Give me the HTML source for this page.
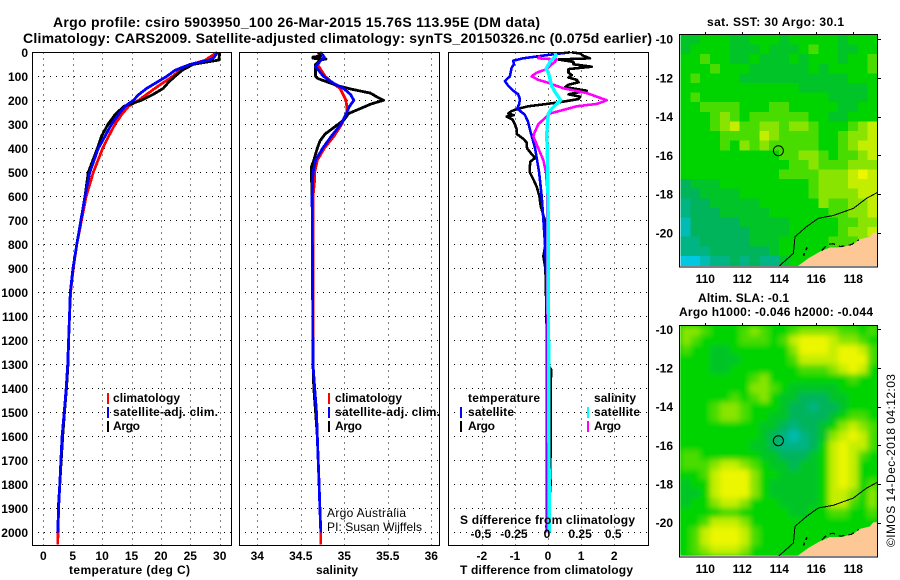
<!DOCTYPE html>
<html>
<head>
<meta charset="utf-8">
<title>Argo profile 5903950_100</title>
<style>
html,body{margin:0;padding:0;background:#fff;}
svg{display:block;}
text{font-family:"Liberation Sans",sans-serif;fill:#000;}
.b{font-weight:bold;font-size:12px;}
.t{font-weight:bold;font-size:14px;}
.n{font-size:12px;}
</style>
</head>
<body>
<svg id="chart" xmlns="http://www.w3.org/2000/svg" width="900" height="580" viewBox="0 0 900 580">
<defs>
<clipPath id="clip-map-sst"><rect x="680" y="35" width="198" height="231"/></clipPath>
<clipPath id="clip-map-sla"><rect x="680" y="326" width="198" height="230"/></clipPath>
<filter id="soft" x="-10%" y="-10%" width="120%" height="120%"><feGaussianBlur stdDeviation="2.8"/></filter>
</defs>
<rect x="0" y="0" width="900" height="580" fill="#fff"/>
<text class="t" x="53" y="27" textLength="487" lengthAdjust="spacing">Argo profile: csiro 5903950_100 26-Mar-2015 15.76S 113.95E (DM data)</text>
<text class="t" x="23" y="43" textLength="629" lengthAdjust="spacing">Climatology: CARS2009. Satellite-adjusted climatology: synTS_20150326.nc (0.075d earlier)</text>
<text class="b" x="707" y="26" textLength="137" lengthAdjust="spacing">sat. SST: 30 Argo: 30.1</text>
<text class="b" x="698" y="302" textLength="91" lengthAdjust="spacing">Altim. SLA: -0.1</text>
<text class="b" x="679" y="316" textLength="194" lengthAdjust="spacing">Argo h1000: -0.046 h2000: -0.044</text>
<g id="layer-maps"></g>
<g id="layer-grid"></g>
<g id="layer-lines"></g>
<g id="layer-frames"></g>
<g id="layer-ticks"></g>

<text class="b" x="69" y="574" textLength="121" lengthAdjust="spacing">temperature (deg C)</text>
<text class="b" x="316" y="574" textLength="42" lengthAdjust="spacing">salinity</text>
<text class="b" x="460" y="574" textLength="173" lengthAdjust="spacing">T difference from climatology</text>
<text class="b" x="460" y="524" textLength="175" lengthAdjust="spacing">S difference from climatology</text>

<g>
<rect x="107" y="393" width="2" height="11" fill="#f00"/>
<text class="b" x="113" y="402" textLength="67" lengthAdjust="spacing">climatology</text>
<rect x="107" y="407" width="2" height="11" fill="#00f"/>
<text class="b" x="113" y="416" textLength="105" lengthAdjust="spacing">satellite-adj. clim.</text>
<rect x="107" y="421" width="2" height="11" fill="#000"/>
<text class="b" x="113" y="430" textLength="27" lengthAdjust="spacing">Argo</text>
</g>
<g>
<rect x="328" y="393" width="2" height="11" fill="#f00"/>
<text class="b" x="335" y="402" textLength="67" lengthAdjust="spacing">climatology</text>
<rect x="328" y="407" width="2" height="11" fill="#00f"/>
<text class="b" x="335" y="416" textLength="105" lengthAdjust="spacing">satellite-adj. clim.</text>
<rect x="328" y="421" width="2" height="11" fill="#000"/>
<text class="b" x="335" y="430" textLength="27" lengthAdjust="spacing">Argo</text>
</g>
<text class="n" x="327" y="517" textLength="79" lengthAdjust="spacing">Argo Australia</text>
<text class="n" x="327" y="531" textLength="95" lengthAdjust="spacing">PI: Susan Wijffels</text>
<g>
<text class="b" x="468" y="402" textLength="72" lengthAdjust="spacing">temperature</text>
<rect x="460" y="407" width="2" height="11" fill="#00f"/>
<text class="b" x="468" y="416" textLength="46" lengthAdjust="spacing">satellite</text>
<rect x="460" y="421" width="2" height="11" fill="#000"/>
<text class="b" x="468" y="430" textLength="27" lengthAdjust="spacing">Argo</text>
<text class="b" x="594" y="402" textLength="42" lengthAdjust="spacing">salinity</text>
<rect x="587" y="407" width="2" height="11" fill="#0ff"/>
<text class="b" x="594" y="416" textLength="46" lengthAdjust="spacing">satellite</text>
<rect x="587" y="421" width="2" height="11" fill="#f0f"/>
<text class="b" x="594" y="430" textLength="27" lengthAdjust="spacing">Argo</text>
</g>
<text class="n" font-size="12" transform="translate(895,547) rotate(-90)" textLength="173" lengthAdjust="spacing">©IMOS 14-Dec-2018 04:12:03</text>
</svg>

<script>
// ---- chart data ----
var depthTicks = [0,100,200,300,400,500,600,700,800,900,1000,1100,1200,1300,1400,1500,1600,1700,1800,1900,2000];
var tempTicks = [0,5,10,15,20,25,30];
var salTicks = [34,34.5,35,35.5,36];
var salTickLabels = ['34','34.5','35','35.5','36'];
var tDiffTicks = [-2,-1,0,1,2];
var sDiffTicks = [-0.5,-0.25,0,0.25,0.5];
var sDiffTickLabels = ['-0.5','-0.25','0','0.25','0.5'];
var lonTicks = [110,112,114,116,118];
var latTicks = [-10,-12,-14,-16,-18,-20];

var tempDepths = [0,25,32,50,75,100,125,150,175,200,225,260,300,350,400,500,600,700,800,900,1000,1100,1200,1300,1400,1500,1600,1700,1800,1900,2000,2050];
var climTemp = [29.6,28,27.6,25.3,23.2,22,20.5,19,17.6,16.2,14.5,13.3,12.2,11.1,10.1,8.5,7.3,6.5,5.7,5.1,4.65,4.45,4.3,4.15,3.9,3.57,3.23,3,2.8,2.6,2.5,2.45];
var argoTemp = [30,29.9,29.9,25.5,23.6,22.4,21.3,20.4,18.7,16.7,13.7,12.2,11,9.9,9.2,7.65,7.1,6.4,5.7,5.05,4.6,4.45,4.3,4.2,3.95,3.6,3.3,3.05,2.8,2.55,2.5,null];
var satTemp = [29.7,28.9,28.2,25,22.4,21,19.3,17.6,16.3,15.3,13.9,12.75,11.6,10.5,9.35,7.9,7.1,6.4,5.7,5.05,4.6,4.45,4.3,4.15,3.9,3.55,3.2,3,2.8,2.6,2.45,null];

var climSalDepths = [0,20,50,100,130,150,200,230,250,270,300,350,400,450,500,530,600,1300,1400,1500,1600,1700,1800,1900,2000,2050];
var climSal = [34.7,34.72,34.69,34.78,34.87,34.95,35.02,35.03,35.03,35.01,34.97,34.88,34.77,34.69,34.66,34.66,34.64,34.64,34.66,34.68,34.69,34.7,34.71,34.72,34.73,34.73];
var argoSalDepths = [0,15,20,25,28,32,35,50,100,110,140,155,170,185,200,215,235,255,280,300,340,370,400,450,480,600,1300,1400,1500,1600,1700,1800,1900,2000];
var argoSal = [34.71,34.73,34.64,34.64,34.79,34.72,34.72,34.67,34.67,34.7,34.93,35.1,35.3,35.37,35.45,35.31,35.18,35.05,35,34.93,34.78,34.72,34.69,34.65,34.62,34.63,34.64,34.65,34.67,34.69,34.7,34.71,34.72,34.73];
var satSalDepths = [0,20,50,60,100,130,150,175,200,225,250,280,300,350,400,450,500,600,1300,1400,1500,1600,1700,1800,1900,2000];
var satSal = [34.73,34.77,34.69,34.67,34.76,34.88,34.99,35.07,35.11,35.06,35.03,34.99,34.96,34.85,34.75,34.67,34.64,34.63,34.64,34.66,34.68,34.69,34.7,34.71,34.72,34.73];

var argoTDiffDepths = [0,5,15,25,30,40,50,60,70,85,95,105,115,125,135,145,160,175,185,195,210,225,235,245,255,262,268,280,300,320,340,360,375,400,425,440,455,475,500,530,560,600,640,680,700,800,850,900,1000,1300,1320,1680,1720,1800,1900,1980];
var argoTDiff = [0.72,0.97,1.07,1.27,0.31,0.77,0.77,1.32,0.62,0.62,0.72,0.62,0.87,0.92,0.62,0.52,1.17,0.62,0.97,0.92,0.26,-0.6,-0.9,-1.1,-1.2,-1.03,-1.25,-1.07,-1,-0.95,-0.95,-0.75,-0.65,-0.63,-0.49,-0.39,-0.53,-0.55,-0.55,-0.44,-0.34,-0.26,-0.22,-0.14,-0.09,-0.08,-0.14,-0.08,-0.06,-0.02,0.09,0.08,0.06,0.08,0.02,-0.05];
var satTDiffDepths = [0,10,25,35,50,65,85,100,120,140,160,175,195,215,235,260,290,320,350,400,500,600,700,800,900,1100,2000];
var satTDiff = [0.67,0.06,-0.75,-1.05,-1.03,-1.1,-1.13,-1.15,-1.3,-1.2,-1.05,-0.9,-0.85,-0.87,-0.93,-0.7,-0.6,-0.55,-0.49,-0.39,-0.27,-0.19,-0.14,-0.09,-0.06,-0.04,-0.04];
var argoSDiffDepths = [15,25,30,40,50,70,85,100,115,125,150,170,185,200,215,225,240,255,280,300,330,350,400,450,500,570,2000];
var argoSDiff = [-0.06,-0.073,0.066,0.053,0.028,-0.01,-0.086,-0.124,-0.073,-0.01,0.116,0.293,0.369,0.444,0.369,0.217,0.116,0.015,-0.035,-0.073,-0.098,-0.111,-0.073,-0.035,-0.015,-0.005,0];
var satSDiffDepths = [0,15,25,40,70,85,110,140,165,185,200,215,235,255,300,350,400,600,2000];
var satSDiff = [0.053,0.061,0.04,0.015,-0.015,0.003,0.015,0.028,0.053,0.078,0.096,0.066,0.028,0.003,-0.005,-0.01,-0.005,0,0.01];

// Map fields, values on a 0-9 colour scale, north to south, west to east
var sstField = [
[4,4,5,5,5,4,4,5,5,5,4,5,5,5,5,5,4,5,5,5],
[4,5,5,5,5,4,4,4,5,4,4,4,5,6,5,5,4,4,5,5],
[5,5,6,5,5,4,4,5,4,4,4,5,4,5,5,5,4,5,5,6],
[5,5,5,6,5,5,5,4,4,4,4,4,4,5,4,5,5,5,5,6],
[5,6,5,5,5,5,4,4,4,4,4,4,4,4,4,4,4,5,5,5],
[5,5,5,5,5,5,5,5,5,5,5,5,4,4,4,4,4,4,4,5],
[5,6,5,5,5,5,5,5,5,5,5,5,5,5,5,4,4,4,4,5],
[5,5,6,6,6,6,5,5,5,6,6,5,5,5,5,5,4,4,5,5],
[5,5,5,6,7,6,5,6,6,6,6,6,6,5,5,4,4,5,5,5],
[5,5,5,6,7,8,6,6,7,7,6,7,7,6,5,5,5,6,7,8],
[5,5,5,5,6,6,6,6,8,7,6,6,6,6,5,5,6,7,7,8],
[5,5,5,5,6,5,7,6,7,6,6,6,6,6,5,5,6,7,8,8],
[5,5,5,5,5,5,5,5,5,5,6,6,7,7,6,5,6,6,7,8],
[5,5,5,5,5,5,5,5,5,5,5,6,6,7,6,6,6,7,7,7],
[5,5,5,5,5,5,5,5,5,5,6,6,6,6,7,7,7,8,9,8],
[3,4,4,4,5,5,5,5,5,5,5,5,5,6,7,7,7,8,8,8],
[3,3,4,4,4,4,5,5,5,5,5,5,5,6,7,7,7,7,8,8],
[2,3,3,4,4,4,4,4,5,5,5,5,5,5,7,6,6,7,7,8],
[2,3,3,3,4,4,4,4,4,5,5,5,5,5,5,6,6,7,7,8],
[1,3,3,3,3,3,4,4,4,4,4,5,5,5,5,5,6,6,7,7],
[1,3,3,3,3,3,3,4,4,4,4,5,5,5,5,5,6,7,7,8],
[2,2,3,3,3,3,3,4,4,4,5,5,5,5,5,6,6,6,7,7],
[2,2,2,3,3,3,3,3,3,4,5,5,5,5,5,5,6,6,7,7],
[0,0,1,2,2,3,2,3,2,2,4,5,5,5,5,5,6,5,5,5]
];
var slaField = [
[7,7,6,5,5,5,6,7,6,5,5,6,7,7,7,7,6,6,5,6],
[7,6,5,5,5,5,6,6,6,5,6,8,9,9,9,8,7,7,6,5],
[6,5,5,4,4,5,5,5,5,5,5,7,9,9,9,8,9,9,8,6],
[5,5,5,4,4,4,5,5,5,5,5,6,8,8,8,8,9,9,9,6],
[5,5,5,4,4,5,5,5,5,5,5,5,6,6,6,7,8,9,8,5],
[5,5,5,5,5,5,5,6,7,5,5,5,5,5,5,5,5,6,5,5],
[5,5,5,5,5,5,5,7,7,6,5,4,4,4,4,4,5,5,5,5],
[5,5,5,5,5,6,5,6,7,5,4,4,3,3,3,4,4,5,5,5],
[5,5,5,6,7,7,6,5,5,5,4,3,3,2,3,3,4,5,5,5],
[5,5,5,6,7,7,6,5,5,4,4,3,3,3,3,4,5,6,6,5],
[5,5,5,5,5,5,5,5,4,4,3,2,3,3,4,5,7,8,7,6],
[5,5,5,5,5,5,5,5,4,3,2,1,2,3,4,7,8,9,8,6],
[5,5,5,5,5,5,5,4,4,3,2,2,2,3,5,8,9,8,8,6],
[6,6,5,5,5,5,5,5,4,4,3,3,3,4,5,8,9,8,6,5],
[6,6,6,7,8,8,7,6,5,4,4,3,4,4,5,8,9,8,5,5],
[5,5,6,8,9,9,9,7,5,5,4,4,4,4,5,8,9,8,5,5],
[4,5,5,8,9,9,9,7,5,4,4,4,4,4,5,8,9,8,5,6],
[4,4,5,8,9,9,9,7,5,4,4,4,4,4,5,8,8,7,5,7],
[4,5,5,7,8,8,7,5,5,5,4,4,4,4,5,8,8,6,5,7],
[5,5,5,5,6,6,5,5,5,5,5,4,4,5,5,6,6,5,5,6],
[5,5,6,8,8,8,7,5,5,5,5,5,5,5,5,5,5,5,5,5],
[5,6,8,9,9,9,8,6,5,5,5,5,5,5,5,5,5,5,5,5],
[5,6,8,9,9,9,8,6,5,5,5,5,5,5,5,5,5,5,5,5],
[5,6,7,8,8,8,7,5,5,5,5,5,5,5,5,5,5,5,5,5]
];
var fieldColors = ['#00c8e0','#00bcb4','#00b484','#00b45c','#00c428','#00d400','#48dc00','#88e400','#c4ee00','#ecf600'];
var coastLon = [114.94,115.57,116.2,116.74,117.37,118,118.36,118.9,119.08,119.4,119.4,114.94];
var coastLat = [-21.75,-21.31,-20.96,-20.74,-20.74,-20.58,-20.32,-20.19,-19.98,-19.98,-21.75,-21.75];
var shelfLon = [113.95,114.76,114.85,115.48,116.11,116.92,118,118.72,119.32];
var shelfLat = [-21.74,-21.05,-20.19,-19.67,-19.24,-19.1,-18.73,-18.21,-17.9];
var reefLon = [116.3,116.6,116.9,117.3,117.9,118.3];
var reefLat = [-20.9,-20.6,-20.55,-20.7,-20.6,-20.35];
var islandLon = [115.5,115.25];
var islandLat = [-20.75,-21.3];
var floatLon = 113.95;
var floatLat = -15.76;

// ---- axis functions ----
var NS = 'http://www.w3.org/2000/svg';
function yDepth(d){ return 52.3 + 0.24 * d; }
function xTemp(v){ return 43.3 + 5.88 * v; }
function xSal(v){ return 257.3 + 87 * (v - 34); }
function xTDiff(v){ return 548 + 33.1 * v; }
function xSDiff(v){ return 548 + 132.4 * v; }
function xLon(v){ return 705.3 + 18.5 * (v - 110); }
function yLatTop(v){ return 39 + 19.4 * (-10 - v); }
function yLatBottom(v){ return 329.3 + 19.34 * (-10 - v); }

function node(tag, parent, attrs){
  var el = document.createElementNS(NS, tag);
  for (var k in attrs) { el.setAttribute(k, attrs[k]); }
  parent.appendChild(el);
  return el;
}
function label(parent, x, y, anchor, str){
  var el = node('text', parent, {x:x, y:y, 'text-anchor':anchor, 'class':'b'});
  el.textContent = str;
  
  
  return el;
}
var layerMaps = document.getElementById('layer-maps');
var layerGrid = document.getElementById('layer-grid');
var layerLines = document.getElementById('layer-lines');
var layerFrames = document.getElementById('layer-frames');
var layerTicks = document.getElementById('layer-ticks');

// ---- profile panels ----
function panel(left, right, xFn, ticks){
  var top = 52.5, bottom = 545.5;
  ticks.forEach(function(t){
    var x = Math.round(xFn(t)) + 0.5;
    var g = node('line', layerGrid, {x1:x, x2:x, y1:top, y2:bottom, stroke:'#000', 'stroke-dasharray':'1 5', 'shape-rendering':'crispEdges'});
    
    
  });
  depthTicks.forEach(function(d){
    var y = Math.round(yDepth(d)) + 0.5;
    var g = node('line', layerGrid, {x1:left, x2:right, y1:y, y2:y, stroke:'#000', 'stroke-dasharray':'1 5', 'shape-rendering':'crispEdges'});
    
    
  });
  var f = node('rect', layerFrames, {x:left + 0.5, y:top, width:right - left, height:bottom - top, fill:'none', stroke:'#000', 'shape-rendering':'crispEdges'});
  
  
}
function profile(name, values, depths, xFn, color, width){
  var pts = [];
  for (var i = 0; i < values.length; i++) {
    if (values[i] !== null) { pts.push(xFn(values[i]).toFixed(1) + ',' + yDepth(depths[i]).toFixed(1)); }
  }
  var el = node('polyline', layerLines, {points:pts.join(' '), fill:'none', stroke:color, 'stroke-width':width, 'stroke-linejoin':'round', 'shape-rendering':'crispEdges'});
  
  
}
panel(32, 231, xTemp, tempTicks);
panel(239, 439, xSal, salTicks);
panel(448, 648, xTDiff, tDiffTicks);

profile('temperature-climatology-line', climTemp, tempDepths, xTemp, '#f00', 2.8);
profile('temperature-argo-line', argoTemp, tempDepths, xTemp, '#000', 2.8);
profile('temperature-satellite-line', satTemp, tempDepths, xTemp, '#00f', 2.8);
profile('salinity-climatology-line', climSal, climSalDepths, xSal, '#f00', 2.8);
profile('salinity-argo-line', argoSal, argoSalDepths, xSal, '#000', 2.8);
profile('salinity-satellite-line', satSal, satSalDepths, xSal, '#00f', 2.8);
profile('t-difference-argo-line', argoTDiff, argoTDiffDepths, xTDiff, '#000', 2.6);
profile('t-difference-satellite-line', satTDiff, satTDiffDepths, xTDiff, '#00f', 2.6);
profile('s-difference-argo-line', argoSDiff, argoSDiffDepths, xSDiff, '#f0f', 2.6);
profile('s-difference-satellite-line', satSDiff, satSDiffDepths, xSDiff, '#0ff', 3.4);

depthTicks.forEach(function(d){ label(layerTicks, 28, yDepth(d) + 4.5, 'end', String(d)); });
tempTicks.forEach(function(t){ label(layerTicks, xTemp(t), 560, 'middle', String(t)); });
salTicks.forEach(function(t, i){ label(layerTicks, xSal(t), 560, 'middle', salTickLabels[i]); });
tDiffTicks.forEach(function(t){ label(layerTicks, xTDiff(t), 560, 'middle', String(t)); });
sDiffTicks.forEach(function(t, i){ label(layerTicks, xSDiff(t) - 1, 538, 'middle', sDiffTickLabels[i]); });

// ---- maps ----
function mapPath(lons, lats, yFn){
  var pts = [];
  for (var i = 0; i < lons.length; i++) { pts.push(xLon(lons[i]).toFixed(1) + ',' + yFn(lats[i]).toFixed(1)); }
  return pts.join(' ');
}
function drawMap(field, yFn, top, bottom, clipId, blur, labelY){
  var wrap = node('g', layerMaps, {'clip-path':'url(#' + clipId + ')'});
  
  
  var x0 = 680.5, w = 197;
  var cw = w / field[0].length, ch = (bottom - 1.5 - top) / field.length;
  if (blur) {
    var base = node('rect', wrap, {x:x0, y:top, width:w, height:bottom - 1.5 - top, fill:fieldColors[5]});
    
    
  }
  var cells = node('g', wrap, blur ? {filter:'url(#soft)'} : {});
  
  
  field.forEach(function(row, r){
    row.forEach(function(v, c){
      var cell = node('rect', cells, {x:(x0 + c * cw).toFixed(2), y:(top + r * ch).toFixed(2), width:(cw + 0.6).toFixed(2), height:(ch + 0.6).toFixed(2), fill:fieldColors[v], 'shape-rendering':'crispEdges'});
      
      
    });
  });
  var land = node('polygon', wrap, {points:mapPath(coastLon, coastLat, yFn), fill:'#fdc896'});
  
  
  var shelf = node('polyline', wrap, {points:mapPath(shelfLon, shelfLat, yFn), fill:'none', stroke:'#000', 'stroke-width':1, 'shape-rendering':'crispEdges'});
  
  
  var reef = node('polyline', wrap, {points:mapPath(reefLon, reefLat, yFn), fill:'none', stroke:'#000', 'stroke-width':1.2, 'stroke-dasharray':'6 4', 'shape-rendering':'crispEdges'});
  
  
  var isle = node('polyline', wrap, {points:mapPath(islandLon, islandLat, yFn), fill:'none', stroke:'#000', 'stroke-width':1.6, 'stroke-dasharray':'3 3', 'shape-rendering':'crispEdges'});
  
  
  var marker = node('circle', wrap, {cx:xLon(floatLon), cy:yFn(floatLat), r:5, fill:'none', stroke:'#000', 'stroke-width':1});
  
  
  var frame = node('rect', layerFrames, {x:679.5, y:top - 0.5, width:198, height:bottom - top + 0.5, fill:'none', stroke:'#000', 'shape-rendering':'crispEdges'});
  
  
  lonTicks.forEach(function(t){
    var x = Math.round(xLon(t)) + 0.5;
    var tk = node('line', layerFrames, {x1:x, x2:x, y1:top - 3, y2:top, stroke:'#000', 'shape-rendering':'crispEdges'});
    
    
    label(layerTicks, xLon(t), labelY, 'middle', String(t));
  });
  latTicks.forEach(function(t){
    var y = Math.round(yFn(t)) + 0.5;
    var tk = node('line', layerFrames, {x1:878, x2:881, y1:y, y2:y, stroke:'#000', 'shape-rendering':'crispEdges'});
    
    
    label(layerTicks, 673, yFn(t) + 4.5, 'end', String(t));
  });
}
drawMap(sstField, yLatTop, 35, 267, 'clip-map-sst', false, 283);
drawMap(slaField, yLatBottom, 326, 557, 'clip-map-sla', true, 573);
</script>
</body>
</html>
